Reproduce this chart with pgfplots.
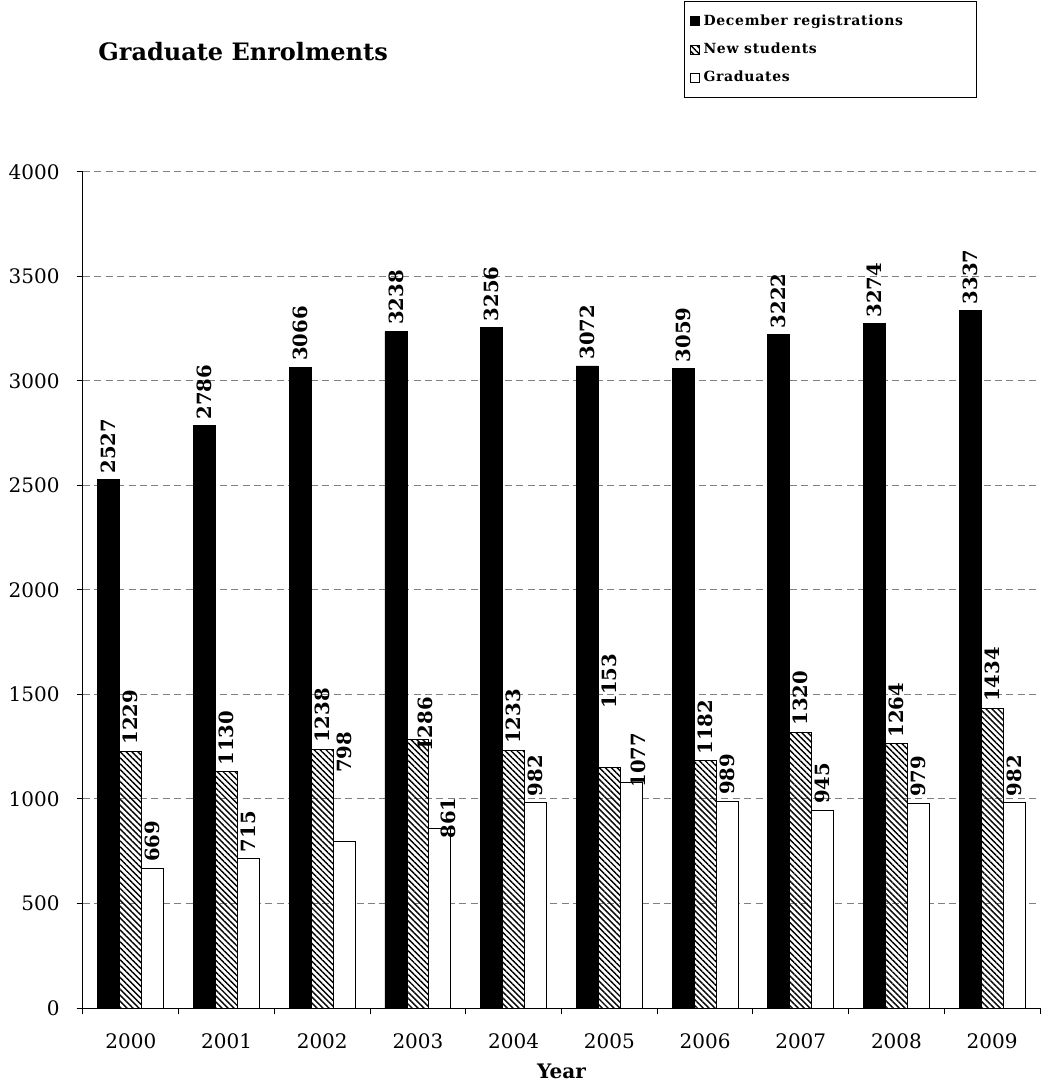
\documentclass[border=0pt]{standalone}
\usepackage{fontspec}
\setmainfont{DejaVu Serif}
\usepackage{pgfplots}
\pgfplotsset{compat=1.18}
\usetikzlibrary{patterns.meta}

\pgfplotsset{
  sqlegend/.style={legend image code/.code={\draw[##1, line width=0.5pt] (0pt,-2.25pt) rectangle (4.5pt,2.25pt);}},
  barlabels/.style={
    visualization depends on={\thisrow{dx} \as \lbx},
    visualization depends on={\thisrow{dy} \as \lby},
    nodes near coords,
    every node near coord/.append style={xshift=\lbx pt, yshift=\lby pt, rotate=90, anchor=west,
      text=black, font=\fontsize{9.8}{10}\selectfont\bfseries, inner sep=3pt},
  },
}
\newcommand{\lgd}[1]{{\bfseries\addfontfeature{LetterSpace=5}#1}}

\begin{document}
\begin{tikzpicture}
\useasboundingbox (0pt,0pt) rectangle (524.5pt,544.5pt);
\node[anchor=base west, font=\fontsize{12}{15}\selectfont\bfseries, inner sep=0pt] at (49pt,514pt) {Graduate Enrolments};
\begin{axis}[
  at={(41.5pt,40.5pt)}, anchor=south west,
  scale only axis, width=478.5pt, height=418pt,
  ybar=0pt, bar width=11pt,
  xmin=-0.5, xmax=9.5, ymin=0, ymax=4000,
  axis x line*=bottom, axis y line*=left,
  axis line style={line width=0.5pt, -},
  xtick={-0.5,0.5,...,9.5},
  xticklabels={2000,2001,2002,2003,2004,2005,2006,2007,2008,2009},
  x tick label as interval,
  ytick={0,500,...,4000},
  tick align=outside, major tick length=3.2pt,
  tick style={black, line width=0.5pt},
  ymajorgrids,
  major grid style={gray, line width=0.5pt, dash pattern=on 3.5pt off 2.2pt},
  /pgf/number format/assume math mode=true,
  /pgf/number format/set thousands separator={},
  ticklabel style={font=\fontsize{10}{12}\selectfont},
  xticklabel style={yshift=-6pt},
  yticklabel style={xshift=-5pt},
  xlabel={\textbf{Year}},
  xlabel style={font=\fontsize{10}{12}\selectfont, yshift=-1pt},
  clip=false,
  legend cell align=left,
  legend style={at={(0.628,1.2045)}, anchor=north west, draw=black, line width=0.5pt,
    font=\fontsize{7}{8}\selectfont, row sep=3.3pt, inner xsep=2.5pt, inner ysep=4.5pt},
]
\addplot[fill=black, draw=black, sqlegend, barlabels] table {
x y dx dy
0 2527 0 0
1 2786 0 0
2 3066 0 0
3 3238 0 0
4 3256 0 0
5 3072 0 0
6 3059 0 0
7 3222 0 0
8 3274 0 0
9 3337 0 0
};
\addlegendentry{\makebox[132pt][l]{\lgd{December registrations}}}
\addplot[draw=black, line width=0.5pt, pattern={Lines[angle=-45,distance=2.1pt,line width=0.7pt]}, sqlegend, barlabels] table {
x y dx dy
0 1229 0 0
1 1130 0 0
2 1238 0 0
3 1286 3.5 -9.5
4 1233 0 0
5 1153 0 26
6 1182 0 0
7 1320 0 0
8 1264 0 0
9 1434 0 0
};
\addlegendentry{\lgd{New students}}
\addplot[fill=white, draw=black, line width=0.5pt, sqlegend, barlabels] table {
x y dx dy
0 669 0 0
1 715 0 0
2 798 0 31
3 861 4 -8.5
4 982 0 0
5 1077 3.5 -5.5
6 989 0 0
7 945 0 0
8 979 0 0
9 982 0 0
};
\addlegendentry{\lgd{Graduates}}
\end{axis}
\end{tikzpicture}
\end{document}
